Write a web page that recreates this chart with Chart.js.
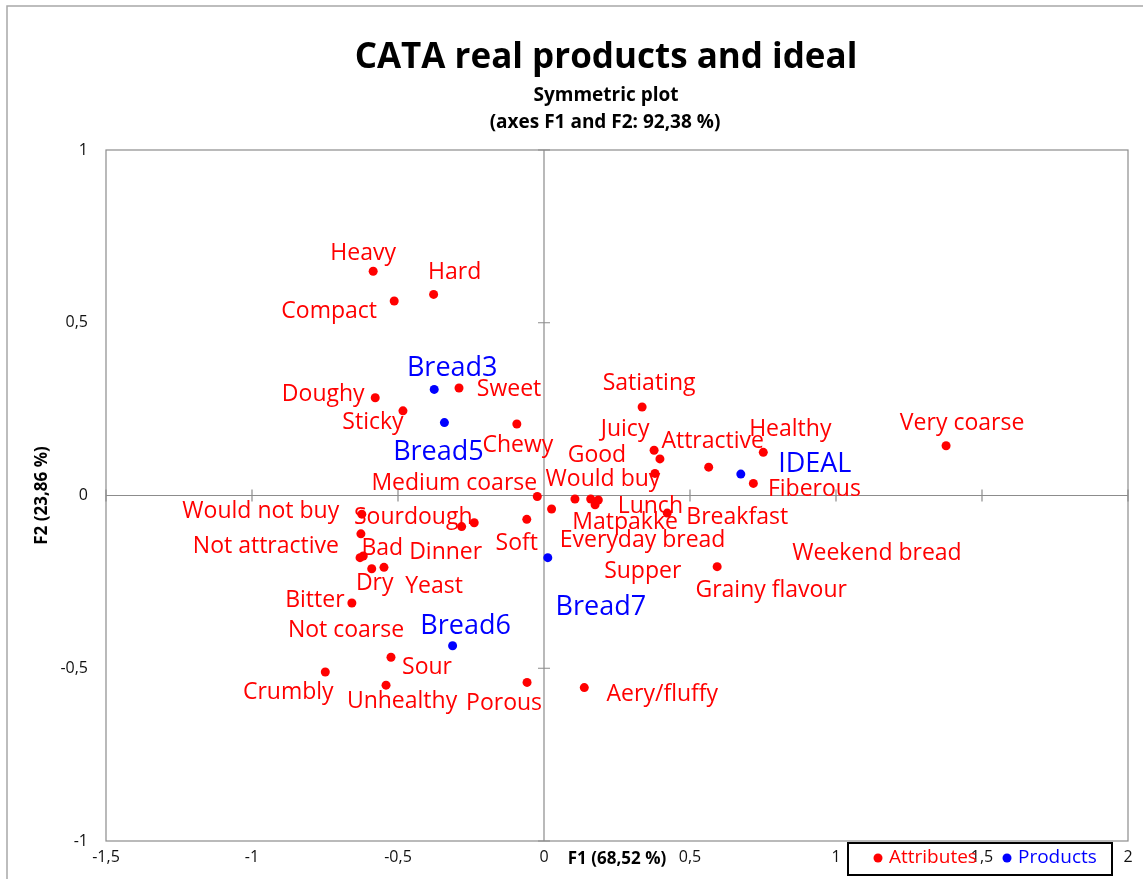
<!DOCTYPE html>
<html>
<head>
<meta charset="utf-8">
<script src="https://cdn.jsdelivr.net/npm/chart.js@4.4.0/dist/chart.umd.min.js"></script>
<style>
  html, body { margin: 0; padding: 0; background: #fff; }
  #wrap { width: 1143px; height: 879px; position: relative; }
</style>
</head>
<body>
<div id="wrap"><canvas id="cata"></canvas></div>
<script>
// CATA symmetric plot, F1 x F2 coordinates
const attrNames = ['Heavy', 'Hard', 'Compact', 'Sweet', 'Doughy', 'Sticky', 'Chewy', 'Satiating',
    'Juicy', 'Good', 'Would buy', 'Attractive', 'Healthy', 'Fiberous', 'Very coarse',
    'Medium coarse', 'Everyday bread', 'Weekend bread', 'Supper', 'Lunch', 'Matpakke', 'Breakfast',
    'Soft', 'Would not buy', 'Sourdough', 'Dinner', 'Not attractive', 'Bad', 'Not coarse', 'Dry',
    'Yeast', 'Bitter', 'Sour', 'Crumbly', 'Unhealthy', 'Porous', 'Aery/fluffy', 'Grainy flavour'];
const attrF1 = [-0.585, -0.378, -0.513, -0.291, -0.578, -0.483, -0.093, 0.336,
    0.377, 0.397, 0.380, 0.564, 0.751, 0.717, 1.377,
    -0.023, 0.026, 0.106, 0.160, 0.186, 0.175, 0.422,
    -0.059, -0.624, -0.239, -0.282, -0.627, -0.619, -0.630, -0.590,
    -0.548, -0.658, -0.524, -0.749, -0.541, -0.058, 0.138, 0.593];
const attrF2 = [0.649, 0.582, 0.563, 0.311, 0.283, 0.245, 0.207, 0.256,
    0.131, 0.106, 0.064, 0.082, 0.125, 0.035, 0.144,
    -0.003, -0.039, -0.010, -0.010, -0.013, -0.027, -0.051,
    -0.069, -0.054, -0.079, -0.090, -0.111, -0.175, -0.180, -0.212,
    -0.208, -0.311, -0.468, -0.511, -0.549, -0.541, -0.556, -0.206];

const prodNames = ['Bread3', 'Bread5', 'Bread6', 'Bread7', 'IDEAL'];
const prodF1 = [-0.376, -0.341, -0.313, 0.013, 0.674];
const prodF2 = [0.307, 0.211, -0.435, -0.180, 0.062];

// label placement relative to its point, in px (centre x, baseline y)
const labelShift = {
    'Heavy': [-10, -11], 'Hard': [21, -15], 'Compact': [-65, 17], 'Sweet': [50, 8],
    'Doughy': [-52, 3], 'Sticky': [-30, 18], 'Chewy': [1, 28], 'Satiating': [7, -17],
    'Juicy': [-29, -14], 'Good': [-63, 3], 'Would buy': [-52, 13], 'Attractive': [4, -19],
    'Healthy': [27, -16], 'Fiberous': [61, 13], 'Very coarse': [16, -16],
    'Medium coarse': [-83, -7], 'Everyday bread': [91, 38], 'Weekend bread': [302, 61],
    'Supper': [52, 79], 'Lunch': [52, 13], 'Matpakke': [30, 24], 'Breakfast': [70, 11],
    'Soft': [-10, 31], 'Would not buy': [-101, 4], 'Sourdough': [-61, 1], 'Dinner': [-16, 32],
    'Not attractive': [-95, 19], 'Bad': [19, -1], 'Not coarse': [-14, 79], 'Dry': [3, 21],
    'Yeast': [50, 26], 'Bitter': [-37, 4], 'Sour': [36, 17], 'Crumbly': [-37, 27],
    'Unhealthy': [16, 23], 'Porous': [-23, 28], 'Aery/fluffy': [78, 13], 'Grainy flavour': [54, 30],
    'Bread3': [18, -13], 'Bread5': [-6, 37], 'Bread6': [13, -12], 'Bread7': [53, 57], 'IDEAL': [74, -2]
};

const FONT = '"Open Sans", "Noto Sans", sans-serif';
const RED = '#ff0000';
const BLUE = '#0000ff';
const GREY = '#8c8c8c';

const toPoints = (xs, ys) => xs.map((x, i) => ({ x: x, y: ys[i] }));
const comma = (v) => String(v).replace('.', ',');

// frame, title, axis titles, zero axes with their small ticks
const decorPlugin = {
    id: 'decor',
    beforeDatasetsDraw(chart) {
        const { ctx, chartArea: a, scales } = chart;
        ctx.save();
        ctx.strokeStyle = '#a8a8a8';
        ctx.lineWidth = 1.5;
        ctx.strokeRect(7, 6, 1200, 1000);

        ctx.strokeStyle = GREY;
        ctx.lineWidth = 1.2;
        ctx.strokeRect(a.left, a.top, a.right - a.left, a.bottom - a.top);

        const x0 = scales.x.getPixelForValue(0);
        const y0 = scales.y.getPixelForValue(0);
        ctx.beginPath();
        ctx.moveTo(x0, a.top); ctx.lineTo(x0, a.bottom);
        ctx.moveTo(a.left, y0); ctx.lineTo(a.right, y0);
        scales.x.ticks.forEach(t => {
            if (t.value === 0) return;
            const px = scales.x.getPixelForValue(t.value);
            ctx.moveTo(px, y0 - 6); ctx.lineTo(px, y0 + 6);
        });
        scales.y.ticks.forEach(t => {
            if (t.value === 0) return;
            const py = scales.y.getPixelForValue(t.value);
            ctx.moveTo(x0 - 6, py); ctx.lineTo(x0 + 6, py);
        });
        ctx.stroke();
        ctx.restore();
    },
    afterDraw(chart) {
        const { ctx, chartArea: a } = chart;
        ctx.save();
        ctx.fillStyle = '#000';
        ctx.textAlign = 'center';
        ctx.textBaseline = 'alphabetic';
        ctx.font = 'bold 35px ' + FONT;
        ctx.fillText('CATA real products and ideal', 606, 68);
        ctx.font = 'bold 19px ' + FONT;
        ctx.fillText('Symmetric plot', 606, 101);
        ctx.fillText('(axes F1 and F2: 92,38 %)', 605, 128);

        ctx.font = 'bold 17px ' + FONT;
        ctx.fillText('F1 (68,52 %)', (a.left + a.right) / 2, 864);
        ctx.translate(47, (a.top + a.bottom) / 2);
        ctx.rotate(-Math.PI / 2);
        ctx.fillText('F2 (23,86 %)', 0, 0);
        ctx.restore();

        // legend box
        ctx.save();
        ctx.strokeStyle = '#000';
        ctx.lineWidth = 2;
        ctx.strokeRect(848, 843, 264, 32);
        ctx.font = '19px ' + FONT;
        ctx.textBaseline = 'middle';
        ctx.textAlign = 'left';
        let lx = 878;
        chart.data.datasets.forEach(ds => {
            ctx.fillStyle = ds.backgroundColor;
            ctx.beginPath();
            ctx.arc(lx, 858, 4.5, 0, Math.PI * 2);
            ctx.fill();
            ctx.fillText(ds.label, lx + 11, 858);
            lx += 129;
        });
        ctx.restore();
    }
};

// text label next to each point
const labelPlugin = {
    id: 'pointLabels',
    afterDatasetsDraw(chart) {
        const { ctx } = chart;
        ctx.save();
        ctx.textAlign = 'center';
        ctx.textBaseline = 'alphabetic';
        chart.data.datasets.forEach((ds, di) => {
            const meta = chart.getDatasetMeta(di);
            ctx.fillStyle = ds.backgroundColor;
            ctx.font = (ds.label === 'Products' ? '27px ' : '23px ') + FONT;
            meta.data.forEach((pt, i) => {
                const name = ds.names[i];
                const s = labelShift[name] || [0, -10];
                ctx.fillText(name, pt.x + s[0], pt.y + s[1]);
            });
        });
        ctx.restore();
    }
};

const ctx = document.getElementById('cata').getContext('2d');

new Chart(ctx, {
    type: 'scatter',
    data: {
        datasets: [{
            label: 'Attributes',
            names: attrNames,
            data: toPoints(attrF1, attrF2),
            backgroundColor: RED,
            borderColor: RED,
            pointRadius: 4.5,
            borderWidth: 0
        }, {
            label: 'Products',
            names: prodNames,
            data: toPoints(prodF1, prodF2),
            backgroundColor: BLUE,
            borderColor: BLUE,
            pointRadius: 4.5,
            borderWidth: 0
        }]
    },
    options: {
        responsive: true,
        maintainAspectRatio: false,
        animation: false,
        layout: { padding: { left: 0, top: 150, right: 15, bottom: 0 } },
        plugins: {
            legend: { display: false },
            tooltip: { enabled: false }
        },
        scales: {
            x: {
                type: 'linear',
                min: -1.5,
                max: 2,
                grid: { display: false, drawTicks: false },
                border: { display: false },
                ticks: {
                    stepSize: 0.5,
                    padding: 7,
                    color: '#111',
                    font: { family: FONT, size: 16 },
                    callback: (v) => comma(v)
                },
                afterFit: (scale) => { scale.height = 38; }
            },
            y: {
                type: 'linear',
                min: -1,
                max: 1,
                grid: { display: false, drawTicks: false },
                border: { display: false },
                ticks: {
                    stepSize: 0.5,
                    padding: 18,
                    color: '#111',
                    font: { family: FONT, size: 16 },
                    callback: (v) => comma(v)
                },
                afterFit: (scale) => { scale.width = 106; }
            }
        }
    },
    plugins: [decorPlugin, labelPlugin]
});
</script>
</body>
</html>
